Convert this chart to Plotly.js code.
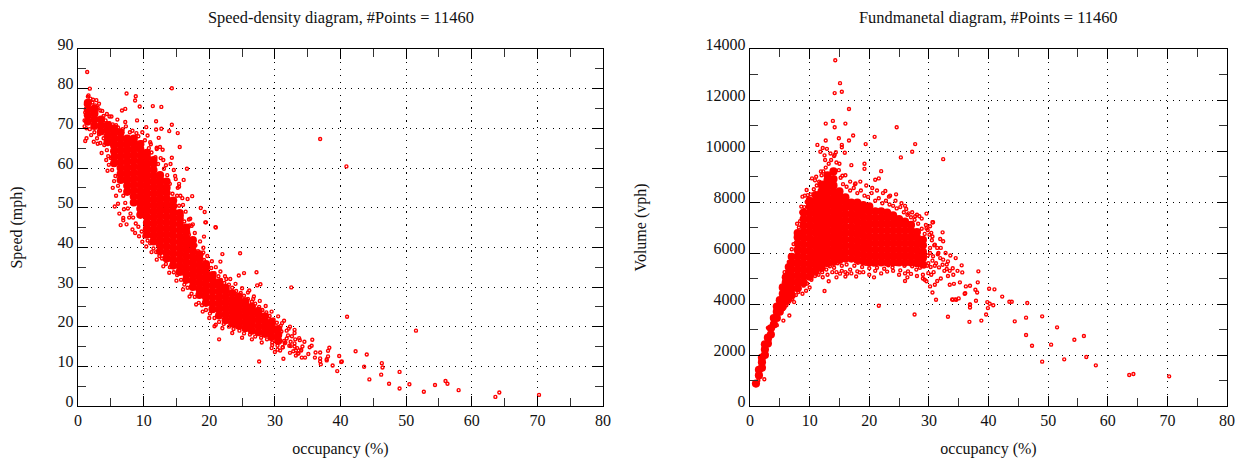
<!DOCTYPE html>
<html><head><meta charset="utf-8">
<script src="https://cdn.plot.ly/plotly-3.0.1.min.js"></script>
<style>html,body{margin:0;padding:0;background:#fff}#c{width:1241px;height:458px}</style>
</head><body><div id="c"></div>
<script>
// Titles and tick labels
const titleLeft = 'Speed-density diagram, #Points = 11460';
const titleRight = 'Fundmanetal diagram, #Points = 11460';
const occupancyLabel = 'occupancy (%)';
const speedLabel = 'Speed (mph)';
const volumeLabel = 'Volume (vph)';

// Individually readable points of the speed-density panel: occupancy and speed
const speedOcc = [70.25,64.2,63.6,58,56.3,56,54.4,52.7,51.5,50.5,49,49,47.4,46.4,46.3,46.2,44.4,44,43.6,42.3,41,40.2,40.1,39.8,39.5,38.8,38.3,38.1,38.1,37.9,37.9,36.9,36.9,36.9,37,36.2,36.1,35.7,35.6,35.3,35.1,34.6,34.1,34.5,34.2,34,33.6,33.2,33,33.7,32.5,31.3,27.6,21.5,20.8,24.7,22,19.1,24.5,25.3,27.2,27.8,27.3,21.7,20.95,19.4,19.2,26.1,22.6,26.7,32.1,31.1,
 1.4,1.8,14.3,7.4,8.8,8.7,6.7,7.2,9.4,11.4,12.7,9,7.2,4.8,3.9,3.4,2.8,11.9,14.3,10.4,11.9,12.7,13.9,15.2,12.3,11.1,15.5,12.5,12,12.9,14.3,36.9,40.9,16.6,14.1,16.1,15.4,15.4,17.4,15.9,16.7,18.7,19.3,19.5,21,17.1,17.5,17,15.5,5.6,1.1,2.4,3,3.6,4.3,4.7,4.5,5.5,6.5,6.9,
 30.2,30.6,31,31.4,31.8,32.2,32.6,33,33.4,33.8,29.6,30.4,31.2,32,32.8,33.5,30,30.8,31.6,32.4,33.2,29.4,30.6,31.5,32.3,33.1,34,
 1,1.1,1.2,1.5,1.9,2.2,2.6,3,1,1.3,1.8,2.5,3.2,3.9,3.5,4.2,4.8,5.3,5.8,6.1,6.8,7.3,7.9,8.3,8.9,9.2,9.7,10.2,10.8,11.2,11.8,12.2,12.6,13.1,13.6,14,14.4,14.8,15.1,15.4,15.8,16.2,16.6,16.9,17.4,17.9,18.3,18.8,19.2,19.8,20.3,20.8,21.4,21.8,22.3,23,23.5,24.1,24.8,25.3,25.9,26.5,27,27.6,28.1,28.7,29.2,29.8,30.3,30.9,
 4.4,5,5.2,5.7,6.1,6.4,6.9,7.2,7.6,8,8.4,8.8,9.2,9.7,10.1,10.6,11,11.5,11.9,12.4,12.8,13.4,14,14.6,15.1,15.7,16.2,16.7,17.3,17.8,18.4,18.9,19.5,20.1,20.8,21.5,22.2,23,23.7,24.6,25.3,26.2,27,27.9,28.8,29.6,30.4,31.2,
 6.3,6.9,7.4,7.8,8.3,8.7,9.3,9.8,10.4,6.1,5.8,5.3,7,11.2,12,13,13.9,15,16,17,18,19,20,21,22,23.5,25,26.5,28,29.5,30.8,
 10.6,9.8,11,12,13,13.4,14.6,14.9,15.2,15.6,16,16.4,16.9,17.3,17.8,18.6,19.1,19.7,20.4,21,21.7,22.4,23.2,24,25,25.9,26.8,27.7,28.6,29.5,30.5,31.4,32.3,33,31.8,32.4,33,
 1.3,2,2.9,3.4,4,4.6,1.6,2.3,3.2,3.7,4.4,5.1,6];
const speedVal = [2.8,3.4,2.3,4,5.6,6.3,5.3,3.6,19,5.5,4.4,8.6,5.6,9.7,10.8,7.9,6.7,13,9.9,13.8,22.5,11.2,11.1,12.6,8.8,10.2,14.7,13.9,12.5,11.8,11.5,13.5,12,11.2,10.5,13.5,12.2,16.7,15.2,14.8,13.1,12.2,12.2,16.2,15,14,13.3,12.7,18.4,17.1,29.9,11.9,11.2,16.8,20.1,38.5,38.3,38.7,32.9,33.5,33.7,30.7,30.4,36.4,45.1,46.3,42.7,29.1,32,27,19.5,20.9,
 84.2,80,80.1,78.8,78.1,77,74.5,74.9,75.5,75.6,75.4,72,71.6,73,73.1,74.5,77.1,71.8,70.9,70.3,69.7,69.9,69.3,68.8,67.6,66,65.3,65.3,64.8,64.6,62.6,67.3,60.4,59.8,61,57,56,55.3,52.9,52.4,52.2,49.9,48.9,46.3,45,47.2,45.8,45.5,48.7,50.3,66.8,66.6,66.1,63.8,62,60.8,59.3,56.7,45.6,47.4,
 19.6,17.2,18.8,16.4,19,15.2,17.6,15.8,14.6,16.6,15.4,14.2,14.8,17.8,13.8,13.2,13.6,18.2,16,15.1,14,17,18.4,15.8,13.4,16.8,14.2,
 72,74,76,78,77.5,76.5,75.8,75.2,70.5,70,69.8,69,68.5,67.5,72.5,72,71.3,71,70.8,70.2,69.8,70.5,69,69.4,68.8,68,66.5,67,65,63.9,62.7,61,62.5,59.8,58.2,56,53.5,58,53,50.5,48,46.5,45,43.2,42,40.5,39,38.2,36.8,35.3,34.8,33.5,32.7,31.8,31,30.6,29.8,29,28.5,27.8,27,26.3,25.8,25,24.2,23.6,22.7,21.8,21,20.2,
 64.5,62.5,59.5,58,55.5,54.3,53,51.2,49.8,48.5,47.5,46,45.2,44,42.8,41.7,41,39.7,38.8,37.8,37.2,35.8,35,33.7,33,31.8,30.6,29.8,28.3,27.5,26,25.4,24.2,23.3,22.2,21.2,20.7,20,19.4,19,18.3,18,17.5,17.2,16.8,16,15.2,14.8,
 48.5,46.8,45.8,47.5,44.5,43.6,42.8,41.4,40.2,51,53,55,49.6,38.8,36.9,35.2,33.6,31.6,29.4,27.6,25.6,23.8,22.2,20.5,19.6,18.4,17.2,16.8,16,14.6,14,
 68.2,69,66.5,65.1,62,60.7,59.5,57.2,55,53,50.7,49,47,45.4,43.6,41.5,39.9,37.8,36.5,35,33.9,32.7,32,30.8,29.7,28.6,27.6,26.5,25.2,23.8,22.6,21.5,20,19.2,17,16.2,15,
 67.5,68.3,67.5,66.3,65.8,63,78.3,77.2,76.2,74.4,73.6,73,72.2];

// Dense body of the speed-density cloud, estimated by occupancy column: speeds
const speedCoreOcc = [1.5,2.5,3.5,4.5,5.5,6.5,7.5,8.5,9.5,10.5,11.5,12.5,13.5,14.5,15.5,16.5,17.5,18.5,19.5,20.5,21.5,22.5,23.5,24.5,25.5,26.5,27.5,28.5,29.5,30.5];
const speedCore = [
 [71.7,73.3,74.8,76.4],[70.6,72.2,73.7,75],[69.2,70.7,72.2],[66.5,68,69.5,70.8],[61.2,62.7,64.2,65.7,67.2,68.7,70],
 [57,58.5,60,61.5,63,64.5,66,67.5,69],[54,55.5,57,58.5,60,61.5,63,64.5,66,67.4],
 [51.3,52.8,54.3,55.8,57.3,58.8,60.3,61.8,63.3,64.8,66.3,67.4],[48.2,49.7,51.2,52.7,54.2,55.7,57.2,58.7,60.2,61.7,63.2,64.7,66],
 [43.2,44.7,46.2,47.7,49.2,50.7,52.2,53.7,55.2,56.7,58.2,59.7,61.2,62.7,63.8],[41.5,43,44.5,46,47.5,49,50.5,52,53.5,55,56.5,58,59.5,61,62],
 [39,40.5,42,43.5,45,46.5,48,49.5,51,52.5,54,55.5,57,58.2],[37.2,38.7,40.2,41.7,43.2,44.7,46.2,47.7,49.2,50.7,52.2,53.7,55,56.6],
 [35.4,36.9,38.4,39.9,41.4,42.9,44.4,45.9,47.4,48.9,50.4,51.8],[33.8,35.3,36.8,38.3,39.8,41.3,42.8,44.3,45.8,47.3,48.6],
 [31.8,33.3,34.8,36.3,37.8,39.3,40.8,42.3,43.8,45],[30,31.5,33,34.5,36,37.5,39,40.5,41.8],[28,29.5,31,32.5,34,35.5,37,38.2],
 [26,27.5,29,30.5,32,33.5,35,35.8],[24.4,25.9,27.4,28.9,30.4,31.9,33],[22.8,24.3,25.8,27.3,28.8,30.3,31.2],[21.6,23.1,24.6,26.1,27.6,29.1,29.8],
 [20.8,22.3,23.8,25.3,26.8,28.4],[20.2,21.7,23.2,24.7,26.2,27.6],[19.6,21.1,22.6,24.1,25.6,26.4],[19,20.5,22,23.5,25],
 [18.6,20.1,21.6,23,24],[18.2,19.7,21.2,22.6],[17.4,18.9,20.4,21.2],[16.4,17.9,19.4]];

// Individually readable points of the fundamental-diagram panel: occupancy and volume
const volOcc = [14.3,15.1,14.2,15.4,16.6,13.9,12.7,14.2,16,14.9,17.3,12.7,16.6,11.3,15.4,15.4,19.4,20.9,24.6,27.7,27.2,25.3,32.4,15.9,12.2,12.9,11.8,14.2,12.5,17,19.2,19.2,22,21.6,21,15.5,10.4,11.1,17.7,9.5,8.8,9.7,8.6,22.7,23.3,24.5,26.2,26.6,27.7,28.4,29.6,30.6,29.6,
 2.4,1,1.4,3,4.5,5.6,6.6,7.4,8.1,8.8,9.4,10,12.5,13.2,14.5,15.1,16,16.3,17.8,18.4,20.8,21.6,26,26.4,27.6,
 29.2,29.3,29.6,30.2,30.6,31.2,31,29.9,30.4,31.2,31.7,32.3,33.2,34.5,35.5,35.6,35.2,34.2,33.5,33.2,34.1,33,33.2,34,34.6,35,36,36.2,36.9,36.9,36.9,36.8,38.8,38.3,38.2,37.8,38.1,37.9,39.6,39.8,40.1,40.2,39.9,30.7,30.1,30.6,32.3,31.9,32.4,31,31.4,30.4,31.6,32.4,30.2,30.7,
 70.3,64.3,63.6,58,56.4,56,54.4,52.7,51.5,50.5,49,49,47.3,46.5,46.3,46.3,44.4,43.9,43.5,42.3,41,40.8,36.1,36.9,34.4,33.9,
 7.3,7.8,8.2,8.4,8.9,9.1,9.5,9.8,10.2,10.7,10.5,11.2,11.6,11.5,12,12.3,12.7,13.2,13.6,14.1,14.5,14.9,15.2,15.6,16.2,16.8,17.4,18,18.6,19.2,19.8,20.4,21,21.6,22.2,22.8,23.4,24,24.6,25.2,25.8,26.4,27,27.6,28.2,28.8,29.3,
 3.3,3.8,4.2,4.7,5.1,5.6,6.1,6.6,7.1,7.7,8.3,9,9.6,10.3,10.9,11.5,12.1,12.8,13.4,14.1,14.7,15.4,16.2,16.8,17.5,18.1,18.8,19.4,20,20.7,21.3,21.9,22.5,23.2,23.9,24.6,25.2,25.9,26.5,27.2,27.9,28.5,29,29.7,
 29.8,30.2,30.5,30.9,30.2,29.8,30.6,31,31.5,31.9,32,32.6,33,32,31.4,30.8,29.5,33.5,34,32.8,33.6,34.8,29.9,30.3,
 12.2,13,13.8,14.5,15.4,16,17,18,19,20,21,22,23,24,25,26,27,28,29,
 10.9,11.9,12.6,13.5,14.4,15,16,16.8,17.6,18.5,19.5,20.5,21.3,22.3,23.5,24.4,25.4,26,27.2,28,28.8,9.2,8.6,7.9,7,6.5,5.8];
const volVal = [13560,12660,12270,12325,11650,11180,11075,10930,11075,10500,10605,10410,10410,10240,10240,10150,10270,10555,10930,10270,9970,9750,9680,9930,10120,10085,9970,9850,9830,9445,9500,9300,9210,8925,8870,9030,8925,8990,8730,8470,8210,8270,7820,8430,8210,8300,7725,7555,7440,7440,7545,7205,6970,
 1050,825,1000,3065,3170,3350,3550,4075,4470,4400,4520,4650,4510,4890,5045,5190,5080,5190,5080,5240,5045,3930,4900,5045,3590,
 5475,4950,4890,4690,4450,4165,4755,5210,5150,5600,5435,5540,5670,5800,5515,5240,4850,4790,4755,5100,5150,5370,3500,4165,4165,4220,4400,4690,4715,3970,3865,3300,3350,5280,4850,4560,4450,4130,3590,4075,4600,4010,3840,7205,6720,6650,6810,6550,6460,6330,6200,6790,6000,5740,6000,5870,
 1163,1255,1215,1595,1920,2745,2600,1830,3085,2405,3515,1740,2365,4040,3465,2785,3320,4090,4090,4290,4575,3950,4420,3985,4180,4180,
 6350,6700,7000,7250,7500,7800,8000,8150,8300,8500,8050,8650,8800,8350,9050,9200,9350,9500,9650,9800,9550,9250,8950,8700,8600,8450,8550,8350,8450,8250,8200,8350,8050,8150,7950,8050,7900,7850,7750,7800,7600,7500,7400,7300,7150,6950,6750,
 2600,3050,3300,3450,3650,3800,3950,4100,4200,4350,4600,4720,4800,4950,5100,5150,5250,5350,5480,5420,5600,5500,5550,5350,5500,5620,5450,5580,5400,5550,5420,5600,5380,5520,5430,5570,5320,5500,5280,5480,5350,5420,5150,5500,
 6900,7050,6500,6300,6200,5900,5700,5500,5950,5800,6200,5300,5550,5000,4900,5250,7100,5300,5400,6000,5900,5300,5600,5450,
 5050,5150,5250,5250,5300,5250,5200,5280,5250,5150,5300,5200,5270,5300,5150,5200,5180,5100,5000,
 8850,9200,9650,9900,9950,9500,9050,8800,8700,8800,8650,8550,8450,8350,8250,8050,7950,7850,7600,7500,7350,8250,7600,7150,6150,5650,5250];

// Dense body of the fundamental-diagram cloud, estimated by occupancy column: volumes
const volCoreOcc = [1,1.5,2,2.5,3,3.5,4,4.5,5,5.5,6,6.5,7,8,9,10,11,12,13,14,15,16,17,18,19,20,21,22,23,24,25,26,27,28,29];
const volCore = [
 [880],[1200,1420],[1500,1720,1900],[2000,2220,2420],[2450,2680],[2800,3050],[3200,3450],[3450,3700,3900],
 [3700,3950,4150],[3900,4150,4400,4650],[4100,4350,4600,4850,5050],[4220,4470,4720,4970,5220,5450],
 [4350,4600,4850,5100,5350,5600,5850],[4620,4870,5120,5370,5620,5870,6120,6370,6620,6780],
 [4830,5080,5330,5580,5830,6080,6330,6580,6830,7080,7330,7580],[5070,5320,5570,5820,6070,6320,6570,6820,7070,7320,7570,7820,8050],
 [5270,5520,5770,6020,6270,6520,6770,7020,7270,7520,7770,8020,8270],[5420,5670,5920,6170,6420,6670,6920,7170,7420,7670,7920,8170,8420,8680],
 [5600,5850,6100,6350,6600,6850,7100,7350,7600,7850,8100,8350,8600,8850,9050],[5650,5900,6150,6400,6650,6900,7150,7400,7650,7900,8150,8400,8650,8900,9200],
 [5730,5980,6230,6480,6730,6980,7230,7480,7730,7980,8230,8420],[5780,6030,6280,6530,6780,7030,7280,7530,7780,8030,8180],
 [5780,6030,6280,6530,6780,7030,7280,7530,7780,7980],[5730,5980,6230,6480,6730,6980,7230,7480,7730,7980],
 [5680,5930,6180,6430,6680,6930,7180,7430,7680,7880],[5630,5880,6130,6380,6630,6880,7130,7380,7630,7830],
 [5630,5880,6130,6380,6630,6880,7130,7380,7630],[5630,5880,6130,6380,6630,6880,7130,7380,7630],
 [5630,5880,6130,6380,6630,6880,7130,7380,7580],[5630,5880,6130,6380,6630,6880,7130,7380,7480],
 [5630,5880,6130,6380,6630,6880,7130,7330],[5630,5880,6130,6380,6630,6880,7130,7230],
 [5630,5880,6130,6380,6630,6880,7100],[5600,5850,6100,6350,6600,6820],[5550,5800,6050,6300,6520]];

function flat(xs, cols){ const x=[], y=[]; cols.forEach((c,i)=>c.forEach(v=>{x.push(xs[i]);y.push(v);})); return {x,y}; }
const red = '#ff0000';
const ring = {symbol:'circle-open', size:3, color:red, line:{width:1.4, color:red}};
const solid = {symbol:'circle', size:8.2, color:red, line:{width:0}};
const sc = flat(speedCoreOcc, speedCore), vc = flat(volCoreOcc, volCore);
const traces = [
 {type:'scatter', mode:'markers', x:sc.x, y:sc.y, marker:solid, xaxis:'x', yaxis:'y', hoverinfo:'skip'},
 {type:'scatter', mode:'markers', x:speedOcc, y:speedVal, marker:ring, xaxis:'x', yaxis:'y'},
 {type:'scatter', mode:'markers', x:vc.x, y:vc.y, marker:solid, xaxis:'x2', yaxis:'y2', hoverinfo:'skip'},
 {type:'scatter', mode:'markers', x:volOcc, y:volVal, marker:ring, xaxis:'x2', yaxis:'y2'}
];
const serif = 'Liberation Serif';
const tickFont = {family:serif, size:16, color:'#111'};
const W = 1241, H = 458;
function xAxis(l, r, anchor){ return {
  domain:[l/W, r/W], range:[0,80], anchor, tick0:0, dtick:10, ticks:'inside', ticklen:10, tickwidth:1.2, tickcolor:'#000',
  mirror:'allticks', showline:true, linecolor:'#000', linewidth:1.4, showgrid:true, gridcolor:'#000', gridwidth:1.3, griddash:'1.3px,5.2px',
  zeroline:false, tickfont:tickFont, minor:{dtick:5, ticks:'inside', ticklen:8, tickwidth:1, tickcolor:'#333', showgrid:false},
  title:{text:occupancyLabel, font:{family:serif, size:16, color:'#111'}, standoff:15}, automargin:false }; }
function yAxis(max, major, minor, label, anchor, standoff){ return {
  domain:[(H-406)/H, (H-49)/H], range:[0,max], anchor, tick0:0, dtick:major, ticks:'inside', ticklen:10, tickwidth:1.2, tickcolor:'#000',
  mirror:'allticks', showline:true, linecolor:'#000', linewidth:1.4, showgrid:true, gridcolor:'#000', gridwidth:1.3, griddash:'1.3px,5.2px',
  zeroline:false, tickfont:tickFont, tickformat:'d', ticklabelshift:-5, minor:{dtick:minor, ticks:'inside', ticklen:8, tickwidth:1, tickcolor:'#333', showgrid:false},
  title:{text:label, font:{family:serif, size:16, color:'#111'}, standoff}, automargin:false }; }
const layout = {
  width:W, height:H, margin:{l:0,r:0,t:0,b:0}, showlegend:false, paper_bgcolor:'#fff', plot_bgcolor:'#fff',
  xaxis:xAxis(78,603,'y'), yaxis:yAxis(90,10,5,speedLabel,'x',30),
  xaxis2:xAxis(750,1227,'y2'), yaxis2:yAxis(14000,2000,1000,volumeLabel,'x2',54),
  annotations:[
   {text:titleLeft, xref:'paper', yref:'paper', x:340.5/W, y:(H-17)/H, xanchor:'center', yanchor:'middle', showarrow:false, font:{family:serif, size:16.4, color:'#111'}},
   {text:titleRight, xref:'paper', yref:'paper', x:988.5/W, y:(H-17)/H, xanchor:'center', yanchor:'middle', showarrow:false, font:{family:serif, size:16.4, color:'#111'}}
  ]
};
Plotly.newPlot('c', traces, layout, {displayModeBar:false, responsive:false});
</script></body></html>
